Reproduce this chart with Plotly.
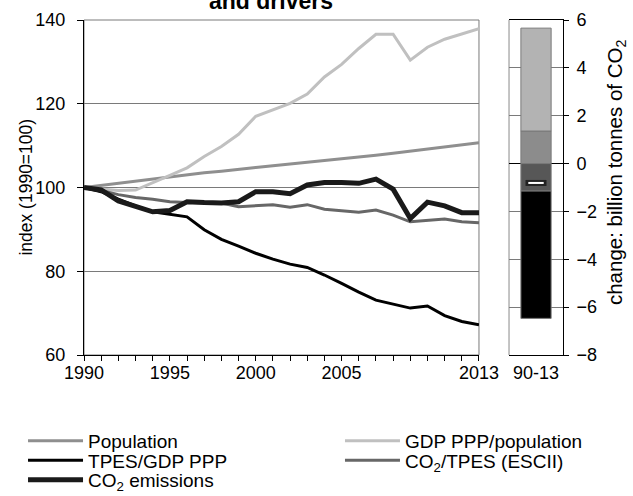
import plotly.graph_objects as go

# ---- index series, 1990 = 100 ----
years = list(range(1990, 2014))
population = [100.0, 100.5, 101.0, 101.6, 102.1, 102.6, 103.1, 103.5, 103.9, 104.4,
              104.8, 105.2, 105.6, 106.0, 106.4, 106.8, 107.2, 107.7, 108.2, 108.7,
              109.2, 109.7, 110.2, 110.7]
gdp_per_capita = [100.0, 99.6, 99.3, 99.4, 101.1, 102.9, 104.7, 107.4, 109.8, 112.7,
                  117.0, 118.5, 120.1, 122.3, 126.4, 129.4, 133.2, 136.6, 136.6, 130.4,
                  133.5, 135.4, 136.6, 137.9]
tpes_per_gdp = [100.0, 99.0, 97.2, 95.6, 94.2, 93.6, 93.0, 89.9, 87.6, 86.0,
                84.3, 82.9, 81.7, 80.9, 79.1, 77.1, 75.0, 73.1, 72.1, 71.2,
                71.7, 69.4, 68.0, 67.2]
co2_per_tpes = [100.0, 99.3, 98.3, 97.6, 97.2, 96.6, 96.4, 96.4, 96.3, 95.4,
                95.7, 95.9, 95.3, 95.9, 94.8, 94.4, 94.1, 94.6, 93.4, 91.8,
                92.1, 92.5, 91.8, 91.6]
co2_emissions = [100.0, 99.4, 96.8, 95.4, 94.2, 94.5, 96.6, 96.4, 96.3, 96.6,
                 99.0, 99.0, 98.5, 100.6, 101.2, 101.2, 101.0, 102.0, 99.6, 92.6,
                 96.5, 95.6, 94.0, 94.0]

labelled_years = [1990, 1995, 2000, 2005, 2013]
labelled_year_text = ["1990", "1995", "2000", "2005", "2013"]

# ---- change 1990-2013 by driver, billion tonnes of CO2 ----
period = ["90-13"]
chg_population = [1.36]
chg_gdp_per_capita = [4.30]
chg_co2_per_tpes = [-1.15]
chg_tpes_per_gdp = [-5.32]
chg_co2_total = [-0.81]

FONT = "Arial, 'Liberation Sans', sans-serif"
C_POP = "#8f8f8f"
C_GDP = "#c0c0c0"
C_TPES = "#000000"
C_ESCII = "#676767"
C_CO2 = "#1a1a1a"

fig = go.Figure()

line_specs = [
    ("Population", population, C_POP, 3, "legend"),
    ("GDP PPP/population", gdp_per_capita, C_GDP, 3, "legend2"),
    ("TPES/GDP PPP", tpes_per_gdp, C_TPES, 3, "legend3"),
    ("CO<sub>2</sub>/TPES (ESCII)", co2_per_tpes, C_ESCII, 3, "legend4"),
    ("CO<sub>2</sub> emissions", co2_emissions, C_CO2, 5, "legend5"),
]
for name, vals, col, w, lg in line_specs:
    fig.add_trace(go.Scatter(
        x=years, y=vals, name=name, mode="lines",
        line=dict(color=col, width=w), legend=lg,
        xaxis="x", yaxis="y",
    ))

bar_specs = [
    ("Population", chg_population, "#8c8c8c"),
    ("GDP PPP/population", chg_gdp_per_capita, "#b3b3b3"),
    ("CO2/TPES (ESCII)", chg_co2_per_tpes, "#575757"),
    ("TPES/GDP PPP", chg_tpes_per_gdp, "#000000"),
]
for name, vals, col in bar_specs:
    fig.add_trace(go.Bar(
        x=period, y=vals, name=name, width=0.56,
        marker=dict(color=col, line=dict(color="#7a7a7a", width=1)),
        showlegend=False, xaxis="x2", yaxis="y2",
    ))

# net change marker
fig.add_trace(go.Scatter(
    x=period, y=chg_co2_total, mode="markers", showlegend=False,
    marker=dict(symbol="line-ew", size=15, line=dict(color="#222222", width=6)),
    xaxis="x2", yaxis="y2",
))
fig.add_trace(go.Scatter(
    x=period, y=chg_co2_total, mode="markers", showlegend=False,
    marker=dict(symbol="line-ew", size=11, line=dict(color="#ffffff", width=2)),
    xaxis="x2", yaxis="y2",
))

tick_font = dict(family=FONT, size=18, color="#000000")
legend_font = dict(family=FONT, size=19, color="#000000")


def legend_at(x, y):
    return dict(orientation="v", x=x, xanchor="left", y=y, yanchor="middle",
                itemwidth=55, font=legend_font, bgcolor="rgba(0,0,0,0)",
                borderwidth=0)


COL1_X, COL2_X = -0.1273, 0.5344
ROW_Y = [-0.2567, -0.3149, -0.3731]

fig.update_layout(
    template="none",
    width=633, height=496,
    margin=dict(l=84, r=70, t=20, b=141, pad=0, autoexpand=False),
    paper_bgcolor="white", plot_bgcolor="white",
    font=dict(family=FONT, size=18, color="#000000"),
    barmode="relative",
    xaxis=dict(
        domain=[0, 0.8246], range=[1990, 2013],
        tickmode="array", tickvals=labelled_years, ticktext=labelled_year_text,
        ticks="outside", ticklen=5, tickcolor="#000000", tickwidth=1,
        minor=dict(tick0=1990, dtick=1, ticks="outside", ticklen=5,
                   tickcolor="#000000", showgrid=False),
        showline=True, linecolor="#000000", linewidth=1,
        showgrid=False, zeroline=False, tickfont=tick_font, ticklabelstandoff=-4,
        anchor="y",
    ),
    yaxis=dict(
        range=[60, 140], dtick=20, tick0=60,
        ticks="outside", ticklen=6, tickcolor="#000000",
        showline=True, linecolor="#000000", linewidth=1,
        showgrid=True, gridcolor="#7a7a7a", gridwidth=1,
        zeroline=False, tickfont=tick_font, ticklabelstandoff=8,
        anchor="x",
    ),
    xaxis2=dict(
        domain=[0.8873, 1], type="category", range=[-0.5, 0.5],
        ticks="outside", ticklen=5, tickcolor="rgba(0,0,0,0)",
        showline=True, linecolor="#000000", linewidth=1, mirror=True,
        showgrid=False, zeroline=False, tickfont=tick_font, ticklabelstandoff=-4,
        anchor="y2",
    ),
    yaxis2=dict(
        range=[-8, 6], dtick=2, tick0=0, side="right",
        ticks="outside", ticklen=5, tickcolor="#000000",
        showline=True, linecolor="#000000", linewidth=1,
        showgrid=True, gridcolor="#7a7a7a", gridwidth=1,
        zeroline=True, zerolinecolor="#000000", zerolinewidth=1,
        tickfont=tick_font, ticklabelstandoff=4,
        anchor="x2",
    ),
    legend=legend_at(COL1_X, ROW_Y[0]),
    legend2=legend_at(COL2_X, ROW_Y[0]),
    legend3=legend_at(COL1_X, ROW_Y[1]),
    legend4=legend_at(COL2_X, ROW_Y[1]),
    legend5=legend_at(COL1_X, ROW_Y[2]),
    shapes=[
        # light frame around the index panel
        dict(type="rect", xref="x domain", yref="y domain", x0=0, x1=1, y0=0, y1=1,
             line=dict(color="#7a7a7a", width=1), layer="below"),
        # left edge of the change panel
        dict(type="line", xref="x2 domain", yref="y2 domain", x0=0, x1=0, y0=0, y1=1,
             line=dict(color="#8a8a8a", width=1), layer="below"),
    ],
    annotations=[
        dict(text="<b>and drivers</b>", xref="paper", yref="paper", x=0.391, y=1,
             xanchor="center", yanchor="bottom", yshift=4, showarrow=False,
             font=dict(family=FONT, size=23)),
        dict(text="index (1990=100)", xref="paper", yref="paper", x=-0.123, y=0.5,
             xanchor="center", yanchor="middle", textangle=-90, showarrow=False,
             font=dict(family=FONT, size=17.5)),
        dict(text="change: billion tonnes of CO<sub>2</sub>", xref="paper", yref="paper",
             x=1.1106, y=0.546, xanchor="center", yanchor="middle", textangle=-90,
             showarrow=False, font=dict(family=FONT, size=20.5)),
    ],
)

fig.write_html("out.html")
